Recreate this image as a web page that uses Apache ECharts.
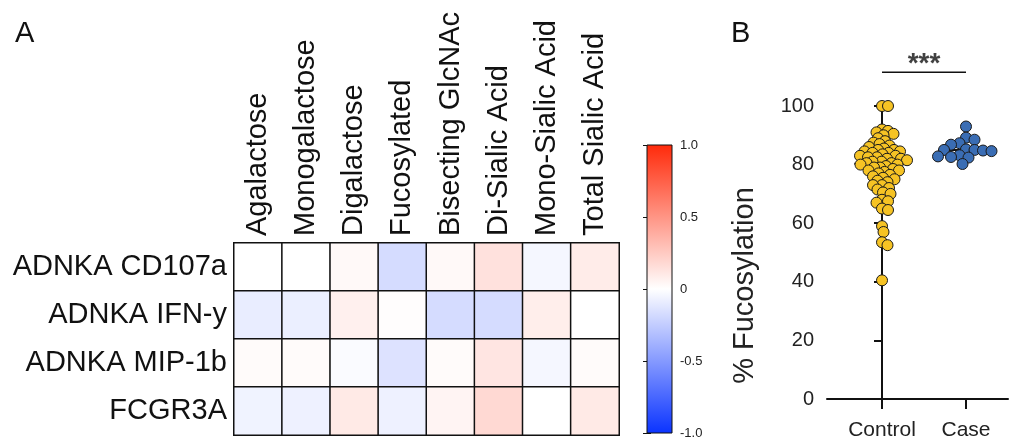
<!DOCTYPE html>
<html>
<head>
<meta charset="utf-8">
<script src="https://cdn.jsdelivr.net/npm/echarts@6/dist/echarts.min.js"></script>
<style>html,body{margin:0;padding:0;background:#fff;}#c{width:1010px;height:443px;}</style>
</head>
<body>
<div id="c"></div>
<script>
// ---------- DATA ----------
const rowLabels = ['ADNKA CD107a', 'ADNKA IFN-y', 'ADNKA MIP-1b', 'FCGR3A'];
const colLabels = ['Agalactose', 'Monogalactose', 'Digalactose', 'Fucosylated', 'Bisecting GlcNAc', 'Di-Sialic Acid', 'Mono-Sialic Acid', 'Total Sialic Acid'];
const corrCD107a = [0.00, 0.00, 0.03, -0.17, 0.03, 0.14, -0.04, 0.09];
const corrIFNy   = [-0.09, -0.08, 0.07, 0.01, -0.17, -0.17, 0.08, 0.00];
const corrMIP1b  = [0.02, 0.02, -0.02, -0.14, 0.02, 0.12, -0.04, 0.02];
const corrFCGR3A = [-0.06, -0.07, 0.10, -0.07, 0.05, 0.18, 0.00, 0.10];
const colorbarTicks = [-1, -0.5, 0, 0.5, 1];
const colorbarTickLabels = ['-1.0', '-0.5', '0', '0.5', '1.0'];

const groupNames = ['Control', 'Case'];
const controlValues = [100, 100, 92, 91.5, 91, 90.5, 90, 89, 88, 87.5, 87, 86.5, 86, 85.5, 85, 85, 84.5, 84.5, 84, 84,
  83.5, 83, 83, 82.5, 82.5, 82, 82, 81.5, 81, 81, 80.5, 80.5, 80, 80, 79.5, 79, 79, 78.5, 78, 78,
  77.5, 77, 76.5, 76, 75.5, 75, 74.5, 74, 73, 73, 72, 71.5, 70.5, 70, 68, 67.5, 67, 65, 64.5, 59,
  57, 53.5, 52.5, 40.5];
const caseValues = [93, 89.2, 88.5, 87.3, 86.8, 85.2, 85, 84.8, 85, 84.6, 83.2, 82.6, 82.4, 82.8, 80.2];
const significance = '***';

// ---------- HELPERS ----------
const FONT = 'Liberation Sans, Arial, Helvetica, sans-serif';
const heatData = [];
[corrCD107a, corrIFNy, corrMIP1b, corrFCGR3A].forEach((row, r) => row.forEach((v, c) => heatData.push([c, r, v])));

// panel B geometry (used for dot-plot swarm spacing)
const gB = { left: 827, top: 106, width: 181, height: 293, xMin: -0.655, xMax: 1.5, yMin: 0, yMax: 100 };
const pxPerX = gB.width / (gB.xMax - gB.xMin);
const pxPerY = gB.height / (gB.yMax - gB.yMin);

function swarm(values, center, minDist) {
  const placed = [];
  const out = [];
  values.forEach(v => {
    const py = v * pxPerY;
    let off = 0;
    for (let k = 0; k < 400; k++) {
      const cand = (k % 2 === 1 ? 1 : -1) * Math.ceil(k / 2) * 0.5;
      const ok = placed.every(p => (p[0] - cand) ** 2 + (p[1] - py) ** 2 >= minDist * minDist);
      if (ok) { off = cand; break; }
    }
    placed.push([off, py]);
    out.push([center + off / pxPerX, v]);
  });
  return out;
}
function median(a) {
  const s = a.slice().sort((x, y) => x - y);
  const m = Math.floor(s.length / 2);
  return s.length % 2 ? s[m] : (s[m - 1] + s[m]) / 2;
}
const ctrlPts = swarm(controlValues, 0, 6);
const casePts = swarm(caseValues, 1, 8.5);
const medC = median(controlValues), medK = median(caseValues);

// ---------- CHART ----------
const chart = echarts.init(document.getElementById('c'));
chart.setOption({
  animation: false,
  textStyle: { fontFamily: FONT },
  title: [
    { text: 'A', left: 10, top: 14, textStyle: { fontSize: 29, fontWeight: 'normal', color: '#111', fontFamily: FONT } },
    { text: 'B', left: 726, top: 14, textStyle: { fontSize: 29, fontWeight: 'normal', color: '#111', fontFamily: FONT } }
  ],
  visualMap: {
    show: false, type: 'continuous', min: -1, max: 1, seriesIndex: 0,
    inRange: { color: ['#0a33ff', '#ffffff', '#ff2a0a'] }
  },
  grid: [
    { left: 234, top: 243, width: 385, height: 192 },
    { left: gB.left, top: gB.top, width: gB.width, height: gB.height },
    { left: 647, top: 145, width: 25, height: 288 }
  ],
  xAxis: [
    { type: 'category', gridIndex: 0, data: colLabels, position: 'top',
      axisLine: { show: false }, axisTick: { show: false }, splitLine: { show: false },
      axisLabel: { rotate: -90, interval: 0, fontSize: 29, margin: 7, color: '#111', fontFamily: FONT } },
    { type: 'value', gridIndex: 1, min: gB.xMin, max: gB.xMax, splitLine: { show: false },
      axisLine: { lineStyle: { color: '#111', width: 2 } },
      axisTick: { customValues: [0, 1], length: 10, lineStyle: { color: '#111', width: 2 } },
      axisLabel: { customValues: [0, 1], formatter: v => groupNames[Math.round(v)], fontSize: 21, margin: 21, color: '#222', fontFamily: FONT } },
    { type: 'value', gridIndex: 2, min: 0, max: 1, show: false }
  ],
  yAxis: [
    { type: 'category', gridIndex: 0, data: rowLabels, inverse: true,
      axisLine: { show: false }, axisTick: { show: false }, splitLine: { show: false },
      axisLabel: { fontSize: 29, margin: 7, color: '#111', fontFamily: FONT } },
    { type: 'value', gridIndex: 1, min: 0, max: 100, interval: 20, splitLine: { show: false },
      name: '% Fucosylation', nameLocation: 'middle', nameGap: 68, nameRotate: 90,
      nameTextStyle: { fontSize: 29, color: '#222', fontFamily: FONT, padding: [0, 66, 0, 0] },
      axisLine: { show: true, lineStyle: { color: '#111', width: 2 } },
      axisTick: { show: true, length: 8, lineStyle: { color: '#111', width: 2 } },
      axisLabel: { fontSize: 20, margin: 13, color: '#222', fontFamily: FONT } },
    { type: 'value', gridIndex: 2, min: -1, max: 1, interval: 0.5, position: 'right', splitLine: { show: false },
      axisLine: { show: false },
      axisTick: { show: true, inside: true, length: 4, lineStyle: { color: '#111', width: 1 } },
      axisLabel: { fontSize: 13, margin: 8, color: '#222', fontFamily: FONT,
        formatter: v => colorbarTickLabels[colorbarTicks.indexOf(v)] } },
    { type: 'value', gridIndex: 2, min: -1, max: 1, interval: 0.5, position: 'left', splitLine: { show: false },
      axisLine: { show: false }, axisLabel: { show: false },
      axisTick: { show: true, inside: true, length: 4, lineStyle: { color: '#111', width: 1 } } }
  ],
  series: [
    { type: 'heatmap', xAxisIndex: 0, yAxisIndex: 0, data: heatData,
      itemStyle: { borderColor: '#111', borderWidth: 1.5 }, emphasis: { disabled: true } },
    { type: 'custom', xAxisIndex: 2, yAxisIndex: 2, data: [[0, -1, 1, 1]], z: 2,
      renderItem: (params, api) => {
        const p1 = api.coord([api.value(0), api.value(2)]);
        const p2 = api.coord([api.value(3), api.value(1)]);
        return { type: 'rect', shape: { x: p1[0], y: p1[1], width: p2[0] - p1[0], height: p2[1] - p1[1] },
          style: { stroke: '#111', lineWidth: 1,
            fill: new echarts.graphic.LinearGradient(0, 0, 0, 1, [
              { offset: 0, color: '#ff2a0a' }, { offset: 0.5, color: '#ffffff' }, { offset: 1, color: '#0a33ff' }]) } };
      } },
    { type: 'line', xAxisIndex: 1, yAxisIndex: 1, data: [[-0.33, medC], [0.33, medC]], symbol: 'none', z: 1,
      lineStyle: { color: '#111', width: 2 } },
    { type: 'line', xAxisIndex: 1, yAxisIndex: 1, data: [[0.67, medK], [1.33, medK]], symbol: 'none', z: 1,
      lineStyle: { color: '#111', width: 2 } },
    { type: 'scatter', xAxisIndex: 1, yAxisIndex: 1, data: ctrlPts, symbolSize: 11, z: 3,
      itemStyle: { color: '#f6c324', borderColor: '#1a1a1a', borderWidth: 1, opacity: 1 } },
    { type: 'scatter', xAxisIndex: 1, yAxisIndex: 1, data: casePts, symbolSize: 11, z: 3,
      itemStyle: { color: '#3a6db4', borderColor: '#1a1a1a', borderWidth: 1, opacity: 1 } },
    { type: 'line', xAxisIndex: 1, yAxisIndex: 1, data: [[0, 111.5], [1, 111.5]], symbol: 'none', clip: false,
      lineStyle: { color: '#111', width: 1.5 } },
    { type: 'scatter', xAxisIndex: 1, yAxisIndex: 1, data: [[0.5, 114.3]], symbolSize: 0, clip: false,
      label: { show: true, position: 'inside', formatter: significance, fontSize: 28, fontWeight: 'bold', color: '#111', fontFamily: FONT } }
  ]
});
</script>
</body>
</html>
